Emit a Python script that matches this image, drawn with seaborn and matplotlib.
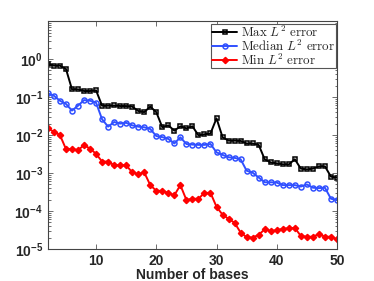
import numpy as np
import pandas as pd
import matplotlib
matplotlib.use('Agg')
import matplotlib.pyplot as plt
import matplotlib.ticker as mticker
from matplotlib.font_manager import FontProperties
import seaborn as sns

# number of bases on the x axis
bases = list(range(2, 51))

max_err = [0.74, 0.67, 0.67, 0.55, 0.16, 0.16, 0.144, 0.144, 0.15,
           0.059, 0.059, 0.06, 0.058, 0.058, 0.056, 0.043, 0.040, 0.056, 0.040,
           0.016, 0.018, 0.013, 0.017, 0.015, 0.017, 0.0098, 0.0105, 0.011, 0.0275,
           0.0088, 0.0071, 0.0071, 0.0070, 0.0060, 0.0060, 0.0055, 0.0023, 0.0019, 0.0018,
           0.0017, 0.00168, 0.0023, 0.0013, 0.00125, 0.0013, 0.0015, 0.0015, 0.0008, 0.00075]

med_err = [0.125, 0.108, 0.080, 0.066, 0.044, 0.059, 0.083, 0.080, 0.071,
           0.026, 0.0166, 0.022, 0.020, 0.021, 0.018, 0.0166, 0.016, 0.0144, 0.0094,
           0.0088, 0.0079, 0.0060, 0.0087, 0.0058, 0.0056, 0.0055, 0.0055, 0.0058, 0.0035,
           0.0030, 0.0026, 0.0025, 0.0023, 0.00115, 0.00102, 0.00076, 0.00057, 0.00057, 0.00056,
           0.00048, 0.00048, 0.00048, 0.00044, 0.0005, 0.00041, 0.0004, 0.00041, 0.00021, 0.000195]

min_err = [0.015, 0.0122, 0.010, 0.0043, 0.0043, 0.0040, 0.0054, 0.0044, 0.0032,
           0.0020, 0.0020, 0.0016, 0.0016, 0.0016, 0.00104, 0.00094, 0.00104, 0.00048, 0.00034,
           0.00034, 0.0003, 0.00026, 0.00048, 0.000195, 0.00021, 0.00021, 0.0003, 0.0003, 0.000129,
           0.00008, 0.000062, 0.000049, 0.000027, 0.0000204, 0.00002, 0.0000235, 0.000033, 0.00003, 0.000031,
           0.000034, 0.000035, 0.000036, 0.000022, 0.000021, 0.000021, 0.0000246, 0.000021, 0.000021, 0.000018]

labels = [r'$\mathrm{Max}\ L^2\ \mathrm{error}$',
          r'$\mathrm{Median}\ L^2\ \mathrm{error}$',
          r'$\mathrm{Min}\ L^2\ \mathrm{error}$']

sns.set_style('ticks')
plt.rcParams['font.family'] = ['Liberation Sans', 'DejaVu Sans']
plt.rcParams['mathtext.fontset'] = 'custom'
plt.rcParams['mathtext.rm'] = 'Liberation Sans'
plt.rcParams['mathtext.bf'] = 'Liberation Sans:bold'

fig = plt.figure(figsize=(3.74, 2.81), dpi=100)
ax = fig.add_axes([0.128, 0.114, 0.773, 0.811])

sns.lineplot(x=bases, y=max_err, ax=ax, color='black', marker='s', ms=3.0,
             mfc='none', mec='black', mew=1.1, lw=1.4, label=labels[0])
sns.lineplot(x=bases, y=med_err, ax=ax, color='#3050ff', marker='o', ms=3.6,
             mfc='none', mec='#3050ff', mew=1.1, lw=1.4, label=labels[1])
sns.lineplot(x=bases, y=min_err, ax=ax, color='#ff0000', marker='D', ms=3.2,
             mfc='#ff0000', mec='#ff0000', mew=1.0, lw=1.4, label=labels[2])

ax.set_yscale('log')
ax.set_xlim(2, 50)
ax.set_ylim(1e-5, 1e1)
ax.set_xticks([10, 20, 30, 40, 50])
ax.set_yticks([1e-5, 1e-4, 1e-3, 1e-2, 1e-1, 1e0])
ax.yaxis.set_major_formatter(mticker.FuncFormatter(lambda v, p: r'$\mathbf{10^{%d}}$' % round(np.log10(v))))
ax.yaxis.set_minor_locator(mticker.LogLocator(base=10, subs=np.arange(2, 10)))
ax.yaxis.set_minor_formatter(mticker.NullFormatter())
ax.tick_params(which='both', direction='in', top=True, right=True, width=0.6, color='#555555')
ax.tick_params(which='major', length=3.5, labelsize=10)
ax.tick_params(which='minor', length=1.8)
for lab in ax.get_xticklabels():
    lab.set_fontweight('bold')
for s in ax.spines.values():
    s.set_linewidth(0.8)
    s.set_color('#444444')

ax.set_xlabel('Number of bases', fontsize=10, fontweight='bold', labelpad=0)

lp = FontProperties(family='DejaVu Serif', size=9.3, math_fontfamily='cm')
leg = ax.legend(loc='upper right', bbox_to_anchor=(0.997, 0.987), borderaxespad=0,
                prop=lp, fancybox=False, framealpha=1, edgecolor='#555555',
                handlelength=2.0, handletextpad=0.3, labelspacing=-0.1,
                borderpad=0.05)
leg.get_frame().set_linewidth(0.8)

fig.savefig('out.png', dpi=100)
